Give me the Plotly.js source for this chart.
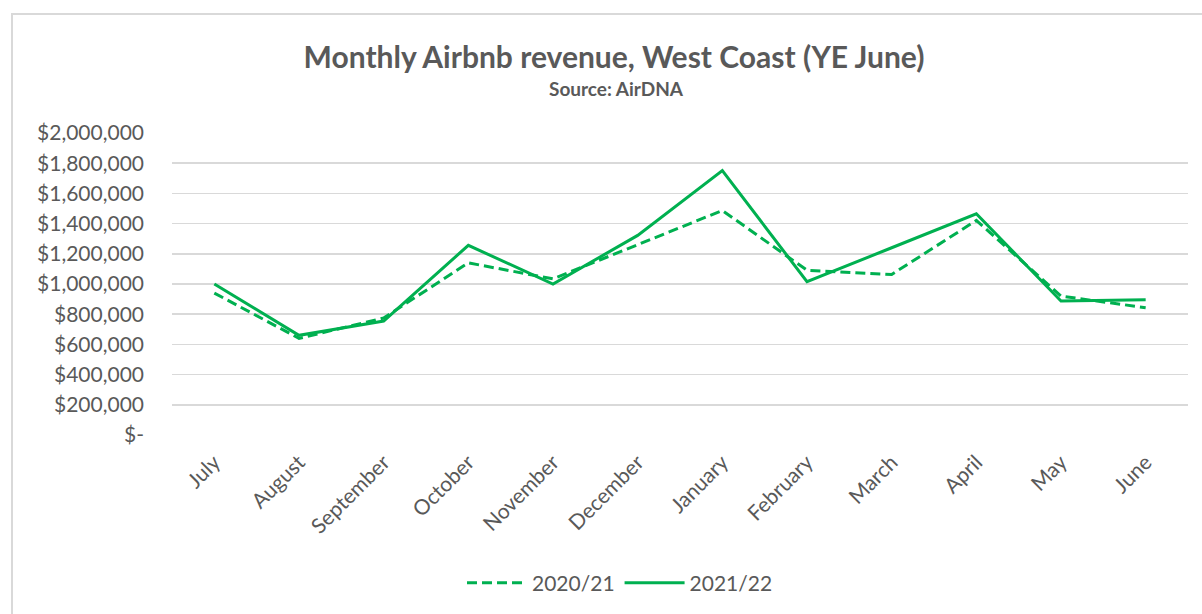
<!DOCTYPE html>
<html>
<head>
<meta charset="utf-8">
<script src="https://cdn.plot.ly/plotly-3.0.1.min.js"></script>
<style>
  html, body { margin: 0; padding: 0; background: #ffffff; }
  #wrap { position: relative; width: 1202px; height: 614px; overflow: hidden; }
  #frame { position: absolute; left: 11px; top: 13px; width: 1300px; height: 700px;
           border-top: 2px solid #d9d9d9; border-left: 2px solid #d9d9d9; pointer-events: none; }
  #chart { position: absolute; left: 0; top: 0; width: 1202px; height: 614px; }
</style>
</head>
<body>
<div id="wrap">
  <div id="chart"></div>
  <div id="frame"></div>
</div>
<script>
const months = ["July","August","September","October","November","December","January","February","March","April","May","June"];
const rev2020_21 = [940000, 640000, 775000, 1140000, 1034000, 1260000, 1487000, 1091000, 1063000, 1421000, 920000, 843000];
const rev2021_22 = [1000000, 660000, 755000, 1256000, 1000000, 1322000, 1751000, 1015000, 1240000, 1465000, 887000, 896000];
const yTickVals = [0, 200000, 400000, 600000, 800000, 1000000, 1200000, 1400000, 1600000, 1800000, 2000000];
const yTickText = ["$-", "$200,000", "$400,000", "$600,000", "$800,000", "$1,000,000", "$1,200,000", "$1,400,000", "$1,600,000", "$1,800,000", "$2,000,000"];

const green = "#00B050";
const gray = "#595959";
const font = "Lato, 'Open Sans', sans-serif";

const traces = [
  { x: months, y: rev2020_21, name: "2020/21", type: "scatter", mode: "lines",
    line: { color: green, width: 3, dash: "10px,5px" } },
  { x: months, y: rev2021_22, name: "2021/22", type: "scatter", mode: "lines",
    line: { color: green, width: 3 } }
];

const layout = {
  width: 1202, height: 614,
  margin: { l: 172, r: 14, t: 133, b: 178 },
  paper_bgcolor: "rgba(0,0,0,0)", plot_bgcolor: "#ffffff",
  font: { family: font, color: gray, size: 21 },
  title: { text: "<b>Monthly Airbnb revenue, West Coast (YE June)</b>",
           font: { family: font, size: 30, color: gray },
           x: 614/1202, xref: "container", xanchor: "center",
           y: 1 - 57/614, yref: "container", yanchor: "middle" },
  annotations: [{ text: "<b>Source: AirDNA</b>", xref: "paper", yref: "paper",
                  x: (616-172)/1016, y: (436-88)/303, xanchor: "center", yanchor: "middle",
                  showarrow: false, font: { family: font, size: 19, color: gray } }],
  xaxis: { type: "category", range: [-0.5, 11.5], tickangle: -45, showgrid: false,
           showline: false, zeroline: false, ticks: "", tickfont: { size: 21, color: gray },
           ticklabelstandoff: 10, fixedrange: true },
  yaxis: { range: [0, 2000000], tickvals: yTickVals, ticktext: yTickText,
           showgrid: true, gridcolor: "#d9d9d9", gridwidth: 1.5, zeroline: false,
           showline: false, ticks: "", tickfont: { size: 21, color: gray }, ticklabelstandoff: 27 },
  showlegend: true,
  legend: { orientation: "h", x: (620-172)/1016, xanchor: "center", y: (436-583)/303, yanchor: "middle",
            font: { size: 21, color: gray }, itemwidth: 60, traceorder: "normal" }
};

Plotly.newPlot("chart", traces, layout, { displayModeBar: false, staticPlot: true });
</script>
</body>
</html>
